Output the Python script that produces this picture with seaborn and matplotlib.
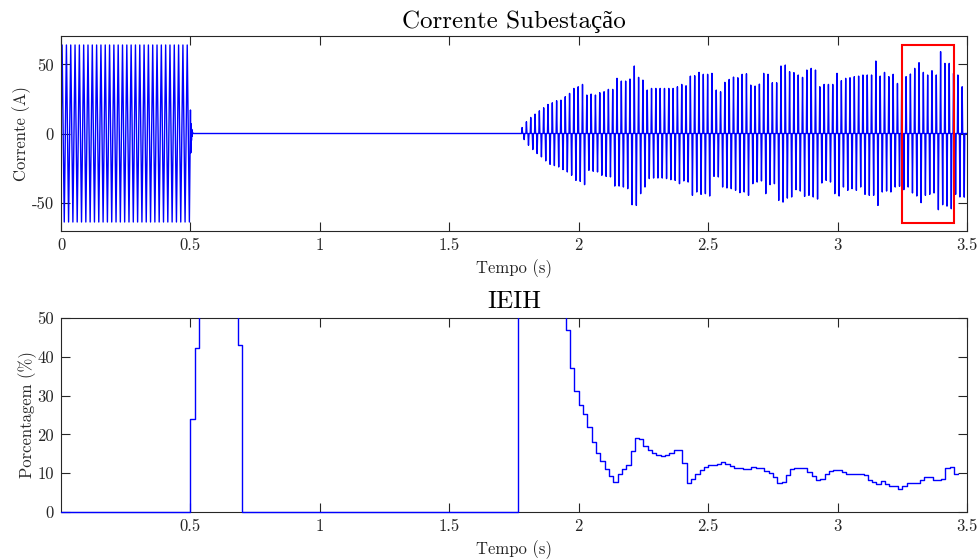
import numpy as np
import matplotlib
matplotlib.use("Agg")
import matplotlib.pyplot as plt
from matplotlib.patches import Rectangle
import seaborn as sns

# ---------------------------------------------------------------------------
# Data
# ---------------------------------------------------------------------------
F_GRID = 60.0                     # system frequency (Hz)
T_END = 3.5                       # end of the simulation (s)

# Substation current before the disturbance (sinusoidal, constant peak)
pre_amplitude = 64.0              # A
pre_cycles = 30                   # 0 .. 0.5 s

# Switching transient at t = 0.5 s (successive extrema, A)
transient_vals = [17.0, -14.0, 7.0, -5.0, 3.0, -2.0, 1.0, 0.0]

# Pulsed (non-linear) current after re-energisation: one positive and one
# negative peak per cycle, starting at cycle 106 (t ~ 1.78 s)
first_pulse_cycle = 106
pos_peaks = [
    4.3, 8.5, 11.6, 14.0, 16.4, 18.6, 21.0, 22.2, 23.7, 24.1,
    26.6, 29.0, 32.6, 33.8, 35.5, 27.8, 28.5, 27.8, 29.5, 30.2,
    31.9, 31.9, 39.9, 37.9, 37.9, 39.4, 48.8, 40.6, 38.6, 31.4,
    32.6, 32.6, 32.6, 32.6, 32.6,
    32.6, 33.8, 35.5, 34.5, 41.5, 41.8, 44.2, 42.8, 42.8, 43.5,
    31.4, 30.2, 37.0, 39.1, 40.8, 40.3, 42.8, 43.2, 35.0, 34.3,
    35.7, 43.5, 42.8, 36.7, 36.7, 48.8, 49.5, 44.7, 44.0, 42.3,
    40.6, 45.9, 47.1, 45.9,
    33.8, 35.5, 35.5, 35.5, 43.5, 38.2, 39.9, 40.3, 41.1, 41.5,
    42.3, 42.3, 42.3, 52.4, 41.5, 44.2, 41.1, 42.8, 36.2, 37.9,
    41.1, 43.0, 47.1, 51.2, 44.2, 42.3, 45.4, 42.3, 59.2, 50.7,
    50.7, 43.5, 42.3, 33.8,
]
neg_peaks = [
    -4.4, -8.5, -11.6, -14.5, -16.9, -19.8, -22.3, -23.2, -24.2, -26.1,
    -27.8, -30.2, -33.9, -34.6, -37.0, -26.6, -27.3, -27.8, -30.2, -31.0,
    -31.4, -38.0, -38.0, -38.7, -39.9, -51.5, -52.0, -43.5, -38.7, -32.6,
    -32.2, -32.2, -32.2, -32.6,
    -33.4, -33.9, -36.3, -34.3, -35.1, -44.7, -42.3, -44.0, -43.5, -45.2,
    -31.0, -31.4, -38.7, -39.4, -39.9, -41.1, -42.8, -42.3, -44.7, -36.3,
    -35.1, -34.3, -43.5, -37.0, -36.3, -48.4, -49.6, -46.7, -45.9, -40.6,
    -41.6, -45.5, -44.7, -45.9,
    -47.4, -35.8, -33.9, -35.1, -43.5, -45.2, -38.7, -41.1, -39.9, -41.1,
    -38.7, -44.0, -44.7, -44.7, -52.0, -42.3, -41.6, -42.3, -38.7, -38.2,
    -40.6, -38.7, -43.0, -45.2, -50.0, -44.7, -44.0, -43.0, -55.1, -51.5,
    -52.5, -54.4, -44.0, -45.9, -46.0,
]

# IEIH index (%), one value per cycle starting at t = 0
ieih_vals = (
    [0.0] * 30
    + [24.1, 42.3]
    + [100.0] * 9
    + [43.0]
    + [0.0] * 64
    + [100.0] * 11
    + [46.8, 37.0, 31.1, 27.7, 25.2, 22.0, 18.1, 15.3, 13.1, 11.1,
       9.3, 7.8, 9.7, 11.1, 12.0, 15.7, 19.2, 18.8, 16.9, 15.9,
       15.2, 14.6, 14.4, 14.7, 15.3, 15.9, 16.1, 12.6, 7.4, 8.6,
       9.9, 10.8, 11.7, 12.0, 12.2, 12.5, 13.0, 12.3, 11.9, 11.3,
       11.3, 11.2, 11.2, 11.5, 11.3, 11.3, 10.6, 10.1, 8.9, 7.6,
       7.7, 9.5, 11.2, 11.4, 11.4, 11.4, 10.3, 9.2, 8.3, 8.5,
       9.9, 10.6, 10.8, 10.7, 10.2, 9.7, 9.9, 9.9, 9.8, 9.5,
       8.3, 7.7, 7.3, 8.0, 7.1, 6.7, 6.6, 6.0, 6.7, 7.4,
       7.5, 7.6, 8.2, 9.0, 8.9, 8.2, 8.3, 8.5, 11.4, 11.5,
       9.9]
)

# Axis ticks
top_xticks = [0, 0.5, 1, 1.5, 2, 2.5, 3, 3.5]
top_xticklabels = ["0", "0.5", "1", "1.5", "2", "2.5", "3", "3.5"]
bot_xticks = [0.5, 1, 1.5, 2, 2.5, 3, 3.5]
bot_xticklabels = ["0.5", "1", "1.5", "2", "2.5", "3", "3.5"]
top_yticks = [-50, 0, 50]
bot_yticks = [0, 10, 20, 30, 40, 50]

# Highlighted window
zoom_window = (3.25, 3.45, -64.5, 64.0)

# ---------------------------------------------------------------------------
# Current waveform assembled from the per-cycle extrema
# ---------------------------------------------------------------------------
t_cur, i_cur = [], []
for k in range(pre_cycles):
    t_cur += [k / F_GRID, (k + 0.25) / F_GRID, (k + 0.5) / F_GRID, (k + 0.75) / F_GRID]
    i_cur += [0.0, pre_amplitude, 0.0, -pre_amplitude]
t0 = pre_cycles / F_GRID
for j, v in enumerate(transient_vals):
    t_cur.append(t0 + j * 0.0013)
    i_cur.append(v)

half_width = 0.12 / F_GRID
for n in range(len(neg_peaks)):
    c = first_pulse_cycle + n
    if n < len(pos_peaks):
        tp = (c + 0.87) / F_GRID
        t_cur += [tp - half_width, tp, tp + half_width]
        i_cur += [0.0, pos_peaks[n], 0.0]
    tn = (c + 1.35) / F_GRID
    t_cur += [tn - half_width, tn, tn + half_width]
    i_cur += [0.0, neg_peaks[n], 0.0]
t_cur.append(T_END)
i_cur.append(0.0)

t_ieih = list(np.arange(len(ieih_vals)) / F_GRID) + [len(ieih_vals) / F_GRID]
v_ieih = list(ieih_vals) + [ieih_vals[-1]]

# ---------------------------------------------------------------------------
# Figure
# ---------------------------------------------------------------------------
sns.set_style("ticks")
plt.rcParams["font.family"] = ["cmr10", "Liberation Serif"]
plt.rcParams["mathtext.fontset"] = "cm"
plt.rcParams["axes.unicode_minus"] = False

AX_GRAY = "#262626"
fig = plt.figure(figsize=(9.78, 5.6), dpi=100)
ax1 = fig.add_axes([0.0624, 0.5875, 0.9264, 0.3482])
ax2 = fig.add_axes([0.0624, 0.0857, 0.9264, 0.3464])

sns.lineplot(x=t_cur, y=i_cur, ax=ax1, sort=False, estimator=None,
             color="blue", linewidth=1.0)
ax1.add_patch(Rectangle((zoom_window[0], zoom_window[2]),
                        zoom_window[1] - zoom_window[0],
                        zoom_window[3] - zoom_window[2],
                        fill=False, edgecolor="red", linewidth=1.5, zorder=5))

sns.lineplot(x=t_ieih, y=v_ieih, ax=ax2, sort=False, estimator=None,
             color="blue", linewidth=1.0, drawstyle="steps-post")
# keep the zero-level trace visible on the bottom spine, clip only above
ieih_line = ax2.lines[-1]
ieih_line.set_zorder(3)
ieih_line.set_clip_path(Rectangle((0, -0.03), 1, 1.03, transform=ax2.transAxes))

ax1.set_xlim(0, T_END)
ax1.set_ylim(-70.5, 70.5)
ax1.set_xticks(top_xticks, top_xticklabels)
ax1.set_yticks(top_yticks, [str(v) for v in top_yticks])
ax1.set_title("Corrente Subestação", fontsize=18, color="black", pad=6)
ax1.set_xlabel("Tempo (s)", fontsize=12, color=AX_GRAY, labelpad=4)
ax1.set_ylabel("Corrente (A)", fontsize=12, color=AX_GRAY, labelpad=0.5)

ax2.set_xlim(0, T_END)
ax2.set_ylim(0, 50)
ax2.set_xticks(bot_xticks, bot_xticklabels)
ax2.set_yticks(bot_yticks, [str(v) for v in bot_yticks])
ax2.set_title("IEIH", fontsize=18, color="black", pad=7)
ax2.set_xlabel("Tempo (s)", fontsize=12, color=AX_GRAY, labelpad=4)
ax2.set_ylabel("Porcentagem (%)", fontsize=12, color=AX_GRAY, labelpad=0.5)

for ax in (ax1, ax2):
    for sp in ax.spines.values():
        sp.set_visible(True)
        sp.set_color(AX_GRAY)
        sp.set_linewidth(0.8)
    ax.tick_params(direction="in", length=6.5, width=0.8, color=AX_GRAY,
                   labelcolor=AX_GRAY, labelsize=12, top=True, right=True,
                   pad=5)
    ax.set_facecolor("white")

fig.savefig("out.png", dpi=100, facecolor="white")
